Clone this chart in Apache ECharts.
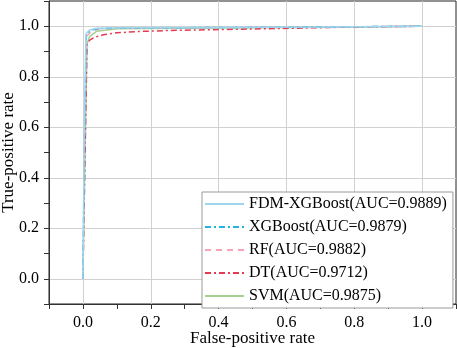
<!DOCTYPE html>
<html>
<head>
<meta charset="utf-8">
<script src="https://cdn.jsdelivr.net/npm/echarts@6/dist/echarts.min.js"></script>
<style>
  html, body { margin: 0; padding: 0; background: #fff; }
  #chart { width: 457px; height: 348px; }
</style>
</head>
<body>
<div id="chart"></div>
<script>
// ROC points as [false-positive rate, true-positive rate]
const fdmXgboost = [[0, 0], [0.004, 0.6], [0.009, 0.97], [0.02, 0.985], [0.04, 0.992], [0.1, 0.994], [0.4, 0.995], [0.7, 0.997], [1, 1]];
const xgboost = [[0, 0], [0.005, 0.6], [0.01, 0.965], [0.02, 0.982], [0.04, 0.99], [0.1, 0.993], [0.4, 0.995], [0.7, 0.997], [1, 1]];
const rf = [[0, 0], [0.006, 0.6], [0.011, 0.96], [0.025, 0.98], [0.05, 0.99], [0.1, 0.992], [0.4, 0.995], [0.7, 0.997], [1, 1]];
const dt = [[0, 0], [0.012, 0.93], [0.02, 0.945], [0.035, 0.957], [0.06, 0.966], [0.1, 0.974], [0.16, 0.979], [0.25, 0.983], [0.45, 0.988], [0.65, 0.993], [0.8, 0.997], [1, 1]];
const svm = [[0, 0], [0.003, 0.25], [0.009, 0.7], [0.012, 0.93], [0.02, 0.96], [0.04, 0.98], [0.1, 0.99], [0.4, 0.993], [0.7, 0.996], [1, 1]];

const seriesNames = ["FDM-XGBoost(AUC=0.9889)", "XGBoost(AUC=0.9879)", "RF(AUC=0.9882)", "DT(AUC=0.9712)", "SVM(AUC=0.9875)"];
const seriesData = [fdmXgboost, xgboost, rf, dt, svm];
const colors = ["#9dd6ef", "#22b2e6", "#f5a3b6", "#e63a52", "#a5d08f"];
const dashes = ["solid", [6, 3, 2, 3], [6, 5], [6, 3, 2, 3], "solid"];

const font = "Liberation Serif, Times New Roman, serif";

const chart = echarts.init(document.getElementById("chart"));

const axisCommon = {
  type: "value",
  min: -0.1,
  max: 1.1,
  interval: 0.1,
  nameLocation: "middle",
  nameMoveOverlap: false,
  nameTextStyle: { fontFamily: font, fontSize: 17, color: "#000" },
  axisLine: { show: true, onZero: false, lineStyle: { color: "#333", width: 1 } },
  axisTick: { show: true, inside: false, length: 5, lineStyle: { color: "#333" } },
  axisLabel: {
    fontFamily: font,
    fontSize: 16,
    color: "#000",
    formatter: (v) => (Math.round(v * 10) % 2 === 0 ? v.toFixed(1) : "")
  },
  splitLine: {
    show: true,
    lineStyle: { color: ["rgba(0,0,0,0)", "#d0d0d0"], width: 1 }
  }
};

const option = {
  backgroundColor: "#fff",
  animation: false,
  grid: {
    left: 49,
    right: 1,
    top: 1,
    bottom: 44,
    outerBoundsMode: "none",
    containLabel: false,
    show: true,
    borderColor: "#222",
    borderWidth: 1,
    backgroundColor: "transparent"
  },
  xAxis: Object.assign({}, axisCommon, {
    name: "False-positive rate",
    nameGap: 26,
    axisLabel: Object.assign({}, axisCommon.axisLabel, { margin: 11 })
  }),
  yAxis: Object.assign({}, axisCommon, {
    name: "True-positive rate",
    nameGap: 32,
    axisLabel: Object.assign({}, axisCommon.axisLabel, { margin: 10 })
  }),
  legend: {
    orient: "vertical",
    left: 202,
    top: 192,
    padding: [4, 6, 4, 2],
    itemWidth: 39,
    itemHeight: 14,
    itemGap: 7,
    backgroundColor: "#fff",
    borderColor: "#999",
    borderWidth: 1,
    itemStyle: { opacity: 0 },
    textStyle: { fontFamily: font, fontSize: 16, color: "#000" },
    data: seriesNames
  },
  series: seriesNames.map((name, i) => ({
    name: name,
    type: "line",
    data: seriesData[i],
    symbol: "none",
    smooth: false,
    color: colors[i],
    lineStyle: { color: colors[i], width: 1.5, type: dashes[i] },
    z: 10 - i
  }))
};

chart.setOption(option);
</script>
</body>
</html>
